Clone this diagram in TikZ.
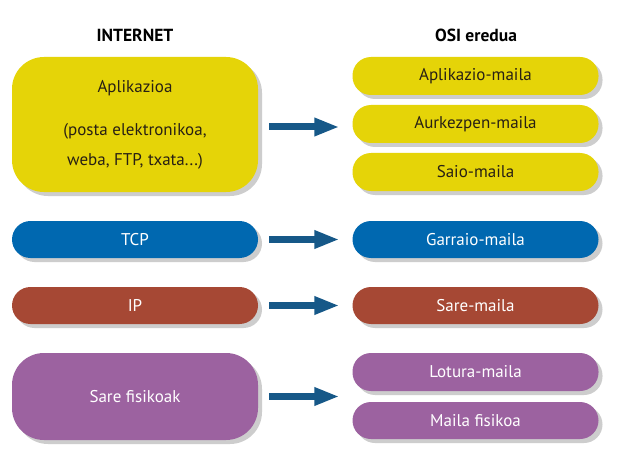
\documentclass[tikz,border=0pt]{standalone}
\usepackage{fontspec}
\setmainfont{PT Sans}
\usetikzlibrary{arrows.meta,shadows}
\definecolor{cyel}{RGB}{229,212,8}
\definecolor{cblue}{RGB}{0,104,176}
\definecolor{cred}{RGB}{166,72,52}
\definecolor{cpur}{RGB}{156,98,160}
\definecolor{carr}{RGB}{22,88,136}
\definecolor{cdark}{RGB}{40,32,20}
\definecolor{cshadow}{RGB}{205,205,205}
\tikzset{
  layer/.style={draw=none, minimum width=246pt, inner sep=0pt,
    drop shadow={shadow xshift=4pt, shadow yshift=-4pt, fill=cshadow, opacity=1},
    font=\fontsize{17}{20}\selectfont},
  pill/.style={layer, rounded corners=18.5pt, minimum height=37pt},
  bigbox/.style={layer, rounded corners=32pt},
  ylw/.style={fill=cyel, text=cdark},
  blu/.style={fill=cblue, text=white},
  rd/.style={fill=cred, text=white},
  pur/.style={fill=cpur, text=white},
  title/.style={font=\bfseries\fontsize{17.5}{20}\selectfont, text=black},
  arr/.style={draw=carr, line width=7pt, -{Triangle[length=25pt,width=17pt]},
    shorten <=11pt, shorten >=13pt}
}
\begin{document}
\begin{tikzpicture}[x=1pt,y=-1pt]
\useasboundingbox[fill=white] (0,0) rectangle (640,468);
\node[title] (tint) at (135,35) {INTERNET};
\node[title] (tosi) at (476,35) {OSI eredua};
\node[bigbox, ylw, minimum height=135pt, align=center,
      font=\fontsize{17}{30}\selectfont] (app) at (135,124.5)
      {Aplikazioa\\[13pt](posta elektronikoa,\\weba, FTP, txata...)};
\node[pill, ylw, minimum height=38pt] (r1) at (475.5,76) {Aplikazio-maila};
\node[pill, ylw, minimum height=38pt] (r2) at (475.5,124) {Aurkezpen-maila};
\node[pill, ylw, minimum height=38pt] (r3) at (475.5,172) {Saio-maila};
\node[pill, blu] (tcp) at (135,239.5) {TCP};
\node[pill, blu] (gar) at (475.5,239.5) {Garraio-maila};
\node[pill, rd] (ip) at (135,305.5) {IP};
\node[pill, rd] (sare) at (475.5,305.5) {Sare-maila};
\node[bigbox, pur, minimum height=87pt] (fis) at (135,396.5) {Sare fisikoak};
\node[pill, pur, minimum height=38pt] (lot) at (475.5,372) {Lotura-maila};
\node[pill, pur] (mai) at (475.5,420.5) {Maila fisikoa};
\draw[arr] ([yshift=-2.5pt]app.east) -- ([yshift=-2.5pt]app.east -| r2.west);
\draw[arr] (tcp.east) -- (gar.west);
\draw[arr] (ip.east) -- (sare.west);
\draw[arr] (fis.east) -- (fis.east -| lot.west);
\end{tikzpicture}
\end{document}
